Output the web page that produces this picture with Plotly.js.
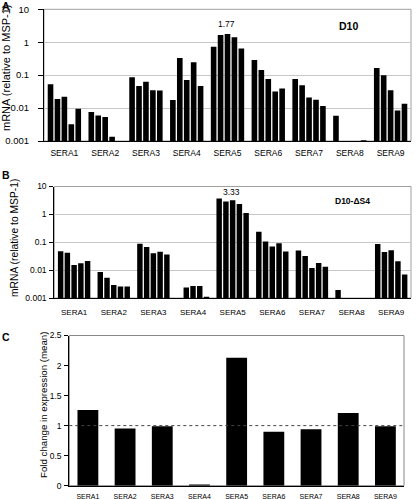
<!DOCTYPE html>
<html><head><meta charset="utf-8">
<script src="https://cdn.plot.ly/plotly-3.0.1.min.js"></script>
<style>html,body{margin:0;padding:0;background:#fff}#chart{width:416px;height:499px}</style>
</head><body><div id="chart"></div>
<script>
const categories = ['SERA1','SERA2','SERA3','SERA4','SERA5','SERA6','SERA7','SERA8','SERA9'];
const logTickVals = [0.001, 0.01, 0.1, 1, 10];
const logTickText = ['0.001', '0.01', '0.1', '1', '10'];
const foldTickVals = [0, 0.5, 1, 1.5, 2, 2.5];
const foldTickText = ['0', '0.5', '1', '1.5', '2', '2.5'];

// Panel A (D10): five bars per gene
const d10_SERA1 = [0.053, 0.019, 0.022, 0.0032, 0.0095];
const d10_SERA2 = [0.0076, 0.006, 0.0054, 0.00135, null];
const d10_SERA3 = [0.086, 0.047, 0.063, 0.035, 0.034];
const d10_SERA4 = [0.0177, 0.33, 0.071, 0.245, 0.047];
const d10_SERA5 = [0.73, 1.66, 1.77, 1.41, 0.65];
const d10_SERA6 = [0.29, 0.144, 0.076, 0.0316, 0.039];
const d10_SERA7 = [0.076, 0.049, 0.021, 0.018, 0.0115];
const d10_SERA8 = [0.0058, null, null, null, 0.00105];
const d10_SERA9 = [0.165, 0.099, 0.035, 0.0085, 0.0135];

// Panel B (D10-ΔS4)
const ds4_SERA1 = [0.048, 0.042, 0.0152, 0.0175, 0.0211];
const ds4_SERA2 = [0.0085, 0.0053, 0.0029, 0.0026, 0.0026];
const ds4_SERA3 = [0.088, 0.067, 0.040, 0.046, 0.0367];
const ds4_SERA4 = [null, 0.0024, 0.0027, 0.0027, 0.0011];
const ds4_SERA5 = [3.7, 2.9, 3.2, 2.35, 1.13];
const ds4_SERA6 = [0.238, 0.107, 0.071, 0.093, 0.047];
const ds4_SERA7 = [0.051, 0.032, 0.0119, 0.018, 0.0133];
const ds4_SERA8 = [0.00195, null, null, null, null];
const ds4_SERA9 = [0.086, 0.0445, 0.052, 0.021, 0.0069];

// Panel C: fold change (mean)
const foldChange = [1.26, 0.95, 0.99, 0.02, 2.13, 0.90, 0.94, 1.21, 0.99];

const labelA = '1.77', labelB = '3.33';

const d10 = [d10_SERA1,d10_SERA2,d10_SERA3,d10_SERA4,d10_SERA5,d10_SERA6,d10_SERA7,d10_SERA8,d10_SERA9];
const ds4 = [ds4_SERA1,ds4_SERA2,ds4_SERA3,ds4_SERA4,ds4_SERA5,ds4_SERA6,ds4_SERA7,ds4_SERA8,ds4_SERA9];

const W = 416, H = 499;
const px = v => v / W, py = v => 1 - v / H;
const FONT = 'Liberation Sans, Arial, sans-serif';

const traces = [];
for (let i = 0; i < 5; i++) {
  traces.push({type:'bar', x: categories, y: d10.map(r => r[i]), xaxis:'x', yaxis:'y',
    marker:{color:'#000', line:{width:0}}, hoverinfo:'skip'});
}
for (let i = 0; i < 5; i++) {
  traces.push({type:'bar', x: categories, y: ds4.map(r => r[i]), xaxis:'x2', yaxis:'y2',
    marker:{color:'#000', line:{width:0}}, hoverinfo:'skip'});
}
traces.push({type:'bar', x: categories, y: foldChange, xaxis:'x3', yaxis:'y3',
  width: 0.56, offset: -0.28, marker:{color:'#000', line:{width:0}}, hoverinfo:'skip'});

function xAx(dom, anchor, size, standoff) {
  return {domain: dom, anchor: anchor, type:'category', showline:true, linecolor:'#000', linewidth:1,
    ticks:'', showgrid:false, zeroline:false, tickfont:{family:FONT, size:size, color:'#000'},
    ticklabelstandoff: standoff, fixedrange:true};
}
function logAx(dom, anchor, size, standoff, tl) {
  return {domain: dom, anchor: anchor, type:'log', range:[-3, 1], tickvals: logTickVals, ticktext: logTickText,
    ticks:'outside', ticklen:tl, tickcolor:'#000', showline:true, linecolor:'#000', linewidth:1,
    showgrid:true, gridcolor:'#c8c8c8', gridwidth:1, zeroline:false,
    tickfont:{family:FONT, size:size, color:'#000'}, ticklabelstandoff: standoff, fixedrange:true};
}

const layout = {
  width: W, height: H, margin:{l:0, r:0, t:0, b:0}, showlegend:false,
  paper_bgcolor:'#fff', plot_bgcolor:'#fff',
  barmode:'group', bargap:0.15, bargroupgap:0.19,
  font:{family:FONT, color:'#000'},
  xaxis: xAx([px(44), px(411)], 'y', 8.5, 4),
  yaxis: logAx([py(141), py(9.3)], 'x', 9.5, 7, 5),
  xaxis2: xAx([px(54.3), px(411)], 'y2', 8, 6),
  yaxis2: logAx([py(298), py(186.5)], 'x2', 8.5, 1, 4),
  xaxis3: xAx([px(69.3), px(404)], 'y3', 7, 4),
  yaxis3: {domain:[py(485.7), py(335.5)], anchor:'x3', range:[0, 2.5], tickvals: foldTickVals, ticktext: foldTickText,
    ticks:'outside', ticklen:4, tickcolor:'#000', showline:true, linecolor:'#000', linewidth:1,
    showgrid:false, zeroline:false, tickfont:{family:FONT, size:8.5, color:'#000'}, ticklabelstandoff:1, fixedrange:true},
  shapes: [
    {type:'rect', xref:'x domain', yref:'y domain', x0:0, x1:1, y0:0, y1:1, line:{color:'#a0a0a0', width:1}, layer:'below'},
    {type:'rect', xref:'x2 domain', yref:'y2 domain', x0:0, x1:1, y0:0, y1:1, line:{color:'#a0a0a0', width:1}, layer:'below'},
    {type:'rect', xref:'x3 domain', yref:'y3 domain', x0:0, x1:1, y0:0, y1:1, line:{color:'#888', width:1}, layer:'below'},
    {type:'line', xref:'x3 domain', yref:'y3', x0:0, x1:1, y0:1, y1:1, line:{color:'#444', width:1, dash:'dot'}}
  ],
  annotations: [
    {text:'<b>A</b>', xref:'paper', yref:'paper', x:px(0), y:py(-2), xanchor:'left', yanchor:'top', showarrow:false, font:{size:10.5}},
    {text:'<b>B</b>', xref:'paper', yref:'paper', x:px(0), y:py(167), xanchor:'left', yanchor:'top', showarrow:false, font:{size:10.5}},
    {text:'<b>C</b>', xref:'paper', yref:'paper', x:px(0), y:py(329), xanchor:'left', yanchor:'top', showarrow:false, font:{size:10.5}},
    {text:'<b>D10</b>', xref:'paper', yref:'paper', x:px(348.7), y:py(25.8), xanchor:'center', yanchor:'middle', showarrow:false, font:{size:10.5}},
    {text:labelA, xref:'paper', yref:'paper', x:px(227), y:py(24.5), xanchor:'center', yanchor:'middle', showarrow:false, font:{size:8.5}},
    {text:'<b>D10-ΔS4</b>', xref:'paper', yref:'paper', x:px(352), y:py(200.5), xanchor:'center', yanchor:'middle', showarrow:false, font:{size:8.5}},
    {text:labelB, xref:'paper', yref:'paper', x:px(231.7), y:py(192), xanchor:'center', yanchor:'middle', showarrow:false, font:{size:8.5}},
    {text:'mRNA (relative to MSP-1)', xref:'paper', yref:'paper', x:px(6), y:py(68), xanchor:'center', yanchor:'middle', textangle:-90, showarrow:false, font:{size:11}},
    {text:'mRNA (relative to MSP-1)', xref:'paper', yref:'paper', x:px(14), y:py(238), xanchor:'center', yanchor:'middle', textangle:-90, showarrow:false, font:{size:10.3}},
    {text:'Fold change in expression (mean)', xref:'paper', yref:'paper', x:px(43), y:py(405), xanchor:'center', yanchor:'middle', textangle:-90, showarrow:false, font:{size:9.7}}
  ]
};

Plotly.newPlot('chart', traces, layout, {staticPlot:true, displayModeBar:false});
</script>
</body></html>
